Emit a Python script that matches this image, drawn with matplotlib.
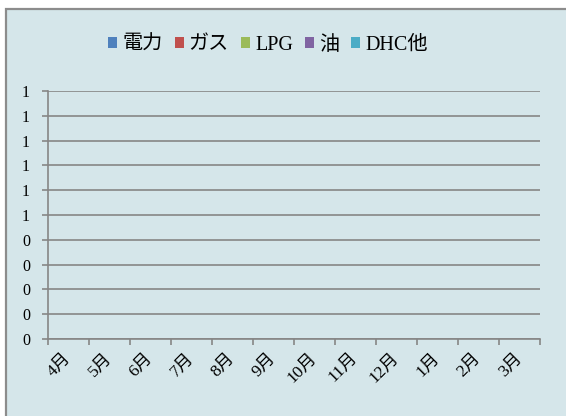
"""Empty monthly energy stacked bar chart (all values zero)."""

import numpy as np
import matplotlib
matplotlib.use("Agg")
import matplotlib.pyplot as plt
from matplotlib.patches import Rectangle
from matplotlib.ticker import FixedLocator, FuncFormatter

months = ["4月", "5月", "6月", "7月", "8月", "9月",
          "10月", "11月", "12月", "1月", "2月", "3月"]
series_names = ["電力", "ガス", "LPG", "油", "DHC他"]
series_colors = ["#4F81BD", "#C0504D", "#9BBB59", "#8064A2", "#4BACC6"]
electricity = [0] * 12
gas = [0] * 12
lpg = [0] * 12
oil = [0] * 12
dhc = [0] * 12
y_ticks = [0.0, 0.1, 0.2, 0.3, 0.4, 0.5, 0.6, 0.7, 0.8, 0.9, 1.0]

plt.rcParams["font.family"] = ["Liberation Serif", "Noto Sans CJK JP"]

bg = "#D5E6EA"
grid_c = "#868686"
W, H = 566, 416

fig = plt.figure(figsize=(W / 100, H / 100), dpi=100)
fig.patch.set_facecolor("white")
# outer chart frame (cropped at right and bottom)
frame = Rectangle((5.5 / W, -0.1), 1.2, 1.1 - 8.5 / H,
                  transform=fig.transFigure, facecolor=bg,
                  edgecolor="#8C8C8C", linewidth=1.6, zorder=-5)
fig.add_artist(frame)

ax = fig.add_axes([48 / W, (H - 339) / H, (540 - 48) / W, (339 - 91) / H])
ax.set_facecolor("none")

x = np.arange(len(months))
bottom = np.zeros(len(months))
handles = []
for name, vals, col in zip(series_names,
                           [electricity, gas, lpg, oil, dhc], series_colors):
    b = ax.bar(x, vals, 0.6, bottom=bottom, color=col, label=name, zorder=3)
    bottom += np.array(vals)
    handles.append(b)

ax.set_xlim(-0.5, len(months) - 0.5)
ax.set_ylim(0, 1)
ax.yaxis.set_major_locator(FixedLocator(y_ticks))
ax.yaxis.set_major_formatter(FuncFormatter(lambda v, p: str(int(v + 0.5 + 1e-9))))
ax.grid(axis="y", color=grid_c, linewidth=1.2, zorder=1)
ax.set_axisbelow(True)

ax.set_xticks(x)
ax.set_xticklabels(months, rotation=45, ha="right", va="center",
                   rotation_mode="anchor", fontsize=12.5)
ax.set_xticks(np.arange(len(months) + 1) - 0.5, minor=True)
ax.tick_params(axis="x", which="major", length=0, pad=12)
ax.tick_params(axis="x", which="minor", length=4, width=1.2, color=grid_c)
ax.tick_params(axis="y", length=4, width=1.2, color=grid_c, pad=9,
               labelsize=11.5)

for s in ["top", "right"]:
    ax.spines[s].set_visible(False)
for s in ["left", "bottom"]:
    ax.spines[s].set_color(grid_c)
    ax.spines[s].set_linewidth(1.2)

fig.legend(handles=handles, labels=series_names, ncol=5, frameon=False,
           loc="center", bbox_to_anchor=(268 / W, (H - 45) / H),
           fontsize=14.5, handlelength=0.45, handleheight=0.45,
           handletextpad=0.25, columnspacing=0.6)

fig.savefig("out.png", dpi=100, facecolor=fig.get_facecolor())
